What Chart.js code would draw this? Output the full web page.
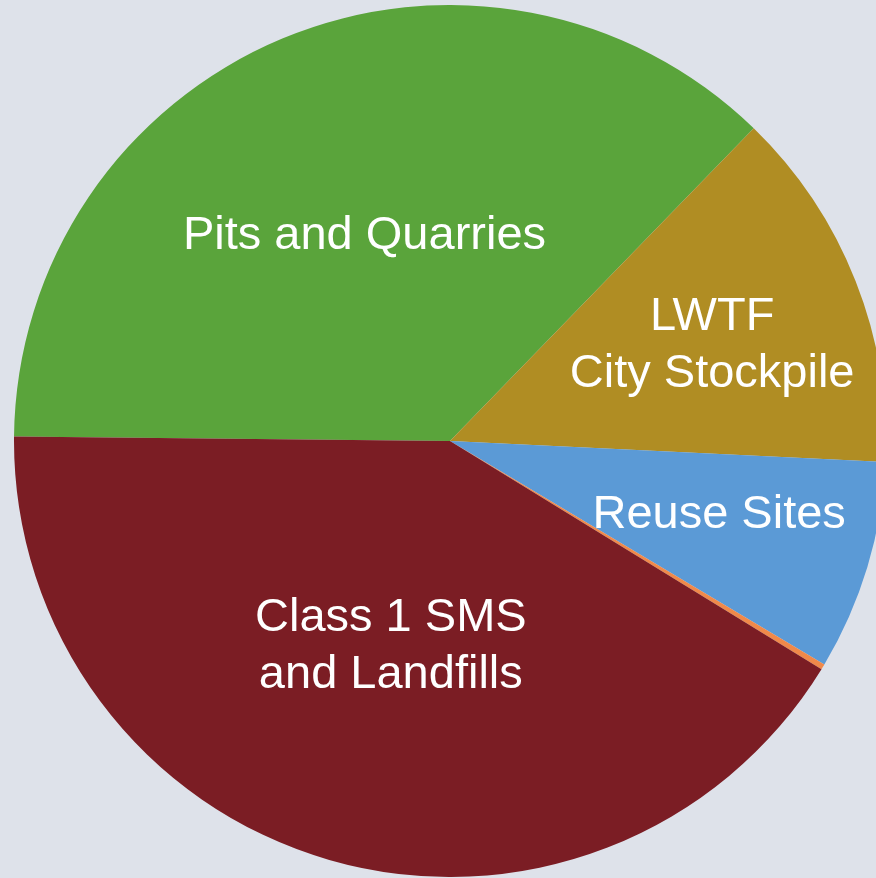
<!DOCTYPE html>
<html>
<head>
<meta charset="utf-8">
<script src="https://cdn.jsdelivr.net/npm/chart.js@4"></script>
<style>
    html, body {
        margin: 0;
        padding: 0;
        width: 876px;
        height: 878px;
        overflow: hidden;
        background: #dee2ea;
    }
    #wrap {
        position: absolute;
        left: 0;
        top: 5px;
        width: 900px;
        height: 872px;
    }
</style>
</head>
<body>
<div id="wrap"><canvas id="pie-chart"></canvas></div>
<script>
// Data kategori dan nilai (persen)
const categories = ['Pits and Quarries', 'LWTF\nCity Stockpile', 'Reuse Sites', 'Other', 'Class 1 SMS\nand Landfills'];
const values = [37.1, 13.5, 7.8, 0.2, 41.4];
const sliceColors = ['#5aa43b', '#b08d23', '#5b9ad6', '#f0894a', '#7b1d24'];
// posisi label: fraksi radius (null = tanpa label) dan geser sudut (derajat)
const labelRadius = [0.51, 0.64, 0.64, null, 0.49];
const labelShift = [0, 1.5, -1.5, 0, 0];

// Plugin untuk menulis label di dalam irisan
const sliceLabels = {
    id: 'sliceLabels',
    afterDatasetsDraw(chart) {
        const ctx = chart.ctx;
        const meta = chart.getDatasetMeta(0);
        ctx.save();
        ctx.fillStyle = '#ffffff';
        ctx.font = '47px "Liberation Sans", Arial, sans-serif';
        ctx.textAlign = 'center';
        ctx.textBaseline = 'middle';
        meta.data.forEach((arc, i) => {
            if (labelRadius[i] === null) return;
            const p = arc.getProps(['x', 'y', 'startAngle', 'endAngle', 'outerRadius'], true);
            const mid = (p.startAngle + p.endAngle) / 2 + labelShift[i] * Math.PI / 180;
            const r = p.outerRadius * labelRadius[i];
            const cx = p.x + Math.cos(mid) * r;
            const cy = p.y + Math.sin(mid) * r;
            const lines = categories[i].split('\n');
            const lh = 57;
            lines.forEach((line, k) => {
                ctx.fillText(line, cx, cy + (k - (lines.length - 1) / 2) * lh);
            });
        });
        ctx.restore();
    }
};

new Chart(document.getElementById('pie-chart'), {
    type: 'pie',
    data: {
        labels: categories,
        datasets: [{
            data: values,
            backgroundColor: sliceColors,
            borderWidth: 0,
            hoverOffset: 0
        }]
    },
    options: {
        responsive: true,
        maintainAspectRatio: false,
        animation: false,
        rotation: 270.6,
        layout: { padding: 0 },
        plugins: {
            legend: { display: false },
            tooltip: { enabled: false }
        }
    },
    plugins: [sliceLabels]
});
</script>
</body>
</html>
